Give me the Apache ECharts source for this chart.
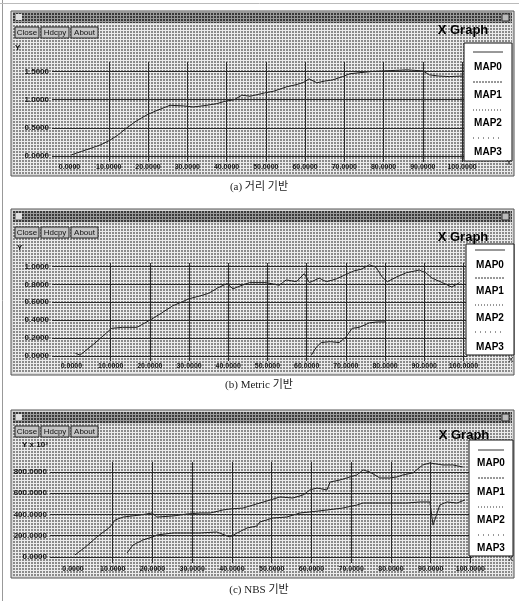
<!DOCTYPE html>
<html><head><meta charset="utf-8">
<script src="https://cdn.jsdelivr.net/npm/echarts@6/dist/echarts.min.js"></script>
<style>html,body{margin:0;padding:0;background:#fff}#c{width:519px;height:601px}</style>
</head><body><div id="c"></div>
<script>
// ---- data ----
const xTicks = [0,10,20,30,40,50,60,70,80,90,100];
const yTicksA = [0,0.5,1.0,1.5];
const yTicksB = [0,0.2,0.4,0.6,0.8,1.0];
const yTicksC = [0,200,400,600,800];
const legendNames = ['MAP0','MAP1','MAP2','MAP3'];
const captions = ['(a) 거리 기반','(b) Metric 기반','(c) NBS 기반'];

// (a) distance based : MAP0
const aX = [0.5,3,6,8,10.3,12.5,14.6,17,19.7,22,25.6,29,31.5,35,37.5,39.6,42,43.9,46,49.7,52,55.4,58,59.7,61,63,65,67,69.6,71.4,74,77,80,83,86,88,90,91.7,94,96.8,100];
const aY = [0.02,0.08,0.15,0.2,0.28,0.38,0.5,0.62,0.73,0.8,0.9,0.89,0.87,0.9,0.93,0.97,1.0,1.08,1.06,1.12,1.15,1.23,1.27,1.31,1.37,1.30,1.33,1.35,1.41,1.46,1.48,1.5,1.51,1.52,1.53,1.52,1.51,1.44,1.42,1.41,1.42];
// (b) metric based : MAP0, MAP1
const bX = [1,2.2,5.6,9,10.3,13,16.7,20,23,25.8,28,30,32.7,35,37.3,39.7,41.2,42.9,45.4,49.7,53,54.8,57.4,59.4,60.7,63.2,65,67.5,70,72,74,76,77.7,79.3,80.6,82.8,85.4,88.7,90.4,92,94.6,97,99];
const bY = [0.03,0.01,0.13,0.26,0.31,0.32,0.32,0.40,0.48,0.56,0.60,0.64,0.67,0.70,0.76,0.81,0.75,0.78,0.82,0.82,0.79,0.85,0.83,0.92,0.82,0.87,0.83,0.86,0.91,0.95,0.97,1.02,0.99,0.88,0.83,0.88,0.93,0.96,0.93,0.87,0.82,0.77,0.82];
const b1X = [61.2,62.5,63.7,66,68.3,70,71.6,73.4,76,78,80];
const b1Y = [0.01,0.10,0.15,0.16,0.15,0.21,0.31,0.32,0.37,0.38,0.38];
// (c) NBS based : MAP0, MAP1  (Y x 10^3)
const cX = [0.5,3,6,9.3,10.6,12.6,16.9,19.9,21.1,25.2,28.7,32,34.5,37.7,39.5,42.8,45.3,49.6,52.1,55.3,57.9,59.6,61.4,63.9,64.7,67.2,71.4,73,74.7,77.2,79.7,81.5,83,85.5,88,89.8,93.1,95.6,98.1];
const cY = [20,90,188,282,348,376,395,414,376,386,405,414,414,442,452,461,489,536,565,555,584,631,649,631,706,725,772,819,800,744,744,753,772,791,866,885,866,866,847];
const c1X = [13.6,15.1,17.6,19.9,21.1,25.2,32,36.2,39.5,41.3,43.8,46.3,47,50.3,53.8,57.1,59.6,63.9,67.9,71.4,73,77.2,84,87.3,89.8,90.6,92.3,94.1,96.6,98.6];
const c1Y = [38,113,160,188,207,226,226,235,188,226,273,292,329,367,376,414,424,442,461,489,508,508,508,518,518,300,489,518,508,536];

const pairs = (xs, ys) => xs.map((x, i) => [x, ys[i]]);

// ---- patterns ----
function pattern(line, dot) {
  const cv = document.createElement('canvas');
  cv.width = 3; cv.height = 3;
  const g = cv.getContext('2d');
  g.fillStyle = dot; g.fillRect(0, 0, 3, 3);
  g.fillStyle = line; g.fillRect(0, 0, 3, 1); g.fillRect(0, 0, 1, 3);
  return { image: cv, repeat: 'repeat' };
}
const bodyFill = pattern('#ececec', '#8a8a8a');
const titleFill = pattern('#9a9a9a', '#3a3a3a');

// ---- layout of windows ----
const panels = [
  { win:[11,11,514,176], title:[12,23], btnY:27, xg:[463,30], ylab:'Y', ylabPos:[15,44],
    leg:[464,43,512,161], legLines:[52,82,110,138], legTexts:[67,95,123,152], xMark:[509,163], capY:187 },
  { win:[11,209,514,375], title:[211,222], btnY:227, xg:[463,237], ylab:'Y', ylabPos:[17,244],
    leg:[466,244,514,355], legLines:[250,278,305,332], legTexts:[265,291,318,347], xMark:[511,360], capY:385 },
  { win:[11,410,514,578], title:[412,423], btnY:426, xg:[464,435], ylab:'Y x 10³', ylabPos:[22,441],
    leg:[469,440,513,556], legLines:[450,478,507,535], legTexts:[463,492,520,548], xMark:[511,559], capY:590 }
];
const dashes = [null, [2,1], [1,2], [1,4]];

const elements = [];
// page edge lines
elements.push({ type:'line', z:-20, shape:{x1:2.5,y1:0,x2:2.5,y2:601}, style:{stroke:'#999', lineWidth:1} });
elements.push({ type:'line', z:-20, shape:{x1:0,y1:3.5,x2:519,y2:3.5}, style:{stroke:'#bbb', lineWidth:1} });

panels.forEach((p, i) => {
  const [x0,y0,x1,y1] = p.win;
  elements.push({ type:'rect', z:-12, shape:{x:x0,y:y0,width:x1-x0,height:y1-y0}, style:{fill:'#d8d8d8', stroke:'#555', lineWidth:1} });
  elements.push({ type:'rect', z:-11, shape:{x:x0+2,y:p.title[1]+1,width:x1-x0-4,height:y1-p.title[1]-3}, style:{fill:bodyFill} });
  elements.push({ type:'rect', z:-11, shape:{x:x0+2,y:p.title[0],width:x1-x0-4,height:p.title[1]-p.title[0]}, style:{fill:titleFill} });
  elements.push({ type:'rect', z:-10, shape:{x:x0+5,y:p.title[0]+2,width:6,height:6}, style:{fill:'#e0e0e0'} });
  elements.push({ type:'rect', z:-10, shape:{x:x1-12,y:p.title[0]+2,width:7,height:7}, style:{fill:'#bbb', stroke:'#333'} });
  // buttons
  [['Close',15,24],['Hdcpy',41,28],['About',71,27]].forEach(([t,bx,bw]) => {
    elements.push({ type:'rect', z:-10, shape:{x:bx,y:p.btnY,width:bw,height:11}, style:{fill:'#c4c4c4', stroke:'#222', lineWidth:1} });
    elements.push({ type:'text', z:-9, style:{text:t, x:bx+bw/2, y:p.btnY+5.5, align:'center', verticalAlign:'middle', font:'8px "Liberation Sans", Arial', fill:'#111'} });
  });
  // title text
  elements.push({ type:'text', z:-9, style:{text:'X Graph', x:p.xg[0], y:p.xg[1], align:'center', verticalAlign:'middle', font:'bold 13px "Liberation Sans", Arial', fill:'#000'} });
  elements.push({ type:'text', z:-9, style:{text:p.ylab, x:p.ylabPos[0], y:p.ylabPos[1], align:'left', verticalAlign:'top', font:'bold 8px "Liberation Sans", Arial', fill:'#111'} });
  // legend box
  const [lx0,ly0,lx1,ly1] = p.leg;
  elements.push({ type:'rect', z:100, shape:{x:lx0,y:ly0,width:lx1-lx0,height:ly1-ly0}, style:{fill:'#fff', stroke:'#111', lineWidth:1} });
  legendNames.forEach((n, k) => {
    const ls = { stroke:'#333', lineWidth:1 };
    if (dashes[k]) ls.lineDash = dashes[k];
    elements.push({ type:'line', z:101, shape:{x1:lx0+9,y1:p.legLines[k],x2:lx1-9,y2:p.legLines[k]}, style:ls });
    elements.push({ type:'text', z:101, style:{text:n, x:(lx0+lx1)/2, y:p.legTexts[k], align:'center', verticalAlign:'middle', font:'bold 10px "Liberation Sans", Arial', fill:'#000'} });
  });
  elements.push({ type:'text', z:101, style:{text:'X', x:p.xMark[0], y:p.xMark[1], align:'center', verticalAlign:'middle', font:'8px "Liberation Sans", Arial', fill:'#222'} });
  // caption
  elements.push({ type:'text', z:-9, style:{text:captions[i], x:259, y:p.capY, align:'center', verticalAlign:'middle', font:'11px "Liberation Serif", "Noto Sans CJK KR", serif', fill:'#222'} });
});

// ---- axes ----
const grids = [
  { left:52, top:62, width:414, height:100 },
  { left:52, top:263, width:415, height:98 },
  { left:50, top:462, width:422, height:101 }
];
const xr = [[-4.46,101.0],[-4.96,100.9],[-5.79,100.4]];
const yr = [[-0.107,1.669],[-0.056,1.039],[-56.5,894]];
const yT = [yTicksA, yTicksB, yTicksC];
const xMargins = [2, 2, 3];

const xAxes = grids.map((g, i) => ({
  type:'value', gridIndex:i, min:xr[i][0], max:xr[i][1],
  axisLine:{show:false}, axisTick:{show:false}, splitLine:{show:false},
  axisLabel:{ customValues:xTicks, formatter:v => v.toFixed(4), fontSize:7, fontWeight:'bold', color:'#111', margin:xMargins[i], fontFamily:'Liberation Sans' }
}));
const yAxes = grids.map((g, i) => ({
  type:'value', gridIndex:i, min:yr[i][0], max:yr[i][1],
  axisLine:{show:false}, axisTick:{show:false}, splitLine:{show:false},
  axisLabel:{ customValues:yT[i], formatter:v => v.toFixed(4), fontSize:8, fontWeight:'bold', color:'#111', margin:3, fontFamily:'Liberation Sans' }
}));

function gridMarks(yTicks) {
  return {
    silent:true, symbol:'none', animation:false, label:{show:false},
    lineStyle:{ color:'#2a2a2a', width:1, type:'solid' },
    data: xTicks.filter(v => v > 0).map(v => ({ xAxis:v })).concat(yTicks.map(v => ({ yAxis:v })))
  };
}
const lineBase = { type:'line', symbol:'none', lineStyle:{ color:'#1e1e1e', width:1 }, silent:true, animation:false };

const series = [
  Object.assign({}, lineBase, { name:'MAP0', xAxisIndex:0, yAxisIndex:0, data:pairs(aX, aY), markLine:gridMarks(yTicksA) }),
  Object.assign({}, lineBase, { name:'MAP0', xAxisIndex:1, yAxisIndex:1, data:pairs(bX, bY), markLine:gridMarks(yTicksB) }),
  Object.assign({}, lineBase, { name:'MAP1', xAxisIndex:1, yAxisIndex:1, data:pairs(b1X, b1Y) }),
  Object.assign({}, lineBase, { name:'MAP0', xAxisIndex:2, yAxisIndex:2, data:pairs(cX, cY), markLine:gridMarks(yTicksC) }),
  Object.assign({}, lineBase, { name:'MAP1', xAxisIndex:2, yAxisIndex:2, data:pairs(c1X, c1Y) })
];

const chart = echarts.init(document.getElementById('c'), null, { renderer:'canvas' });
chart.setOption({
  animation:false,
  backgroundColor:'#fff',
  grid:grids,
  xAxis:xAxes,
  yAxis:yAxes,
  series:series,
  graphic:{ elements:elements }
});
</script></body></html>
